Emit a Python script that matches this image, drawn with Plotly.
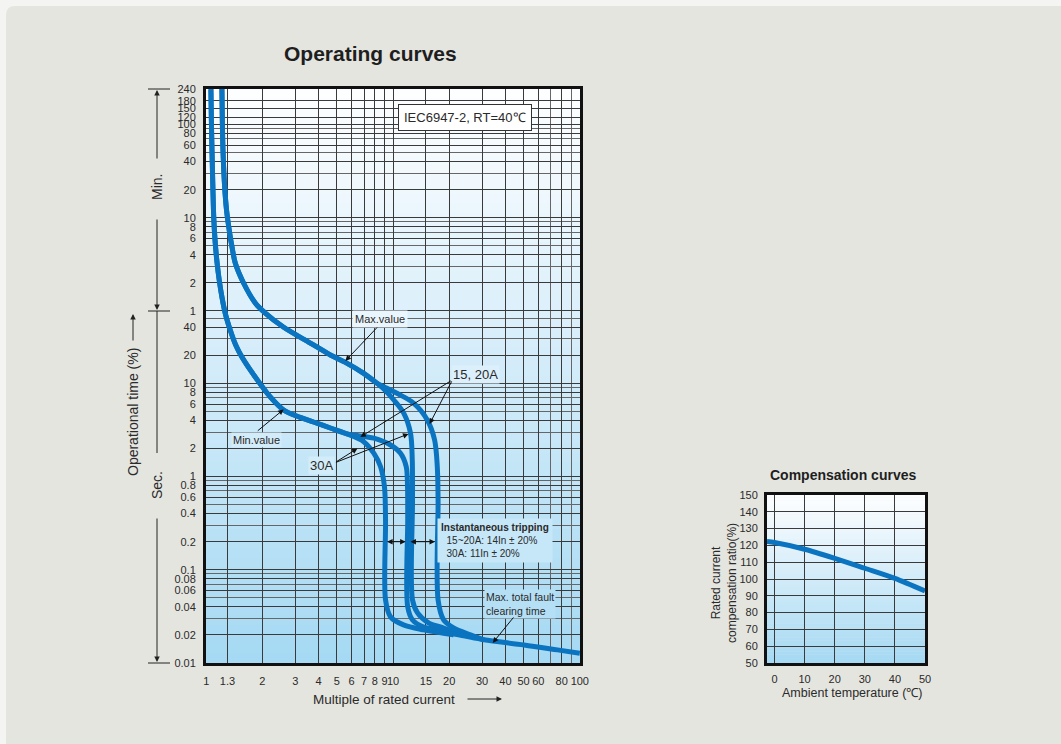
import math
import plotly.graph_objects as go

W, H = 1061, 744

# ---------------- data: operating curves (multiple of In, time in seconds) ----------------
min_common_x = [1.060, 1.066, 1.074, 1.085, 1.098, 1.115, 1.144, 1.174, 1.214, 1.264, 1.345, 1.439,
                1.553, 1.831, 2.203, 2.597, 3.19, 3.75, 4.62, 5.70]
min_common_t = [14400, 6699, 3191, 1345, 595, 345.6, 195.8, 128.7, 84.5, 56.9, 37.4, 25.8,
                19.2, 11.7, 7.15, 5.18, 4.31, 3.85, 3.32, 2.86]

min30_x = min_common_x + [6.97, 7.89, 8.57, 9.0, 9.12, 9.12, 9.70, 11.38, 14.6, 21.1]
min30_t = min_common_t + [2.37, 1.78, 1.28, 0.78, 0.342, 0.0474, 0.0312, 0.0256, 0.0226, 0.020]

min1520_x = min_common_x + [7.89, 9.70, 10.97, 11.77, 11.96, 11.99, 11.99, 12.72, 14.6, 17.3, 21.1]
min1520_t = min_common_t + [2.58, 2.18, 1.78, 1.28, 0.78, 0.342, 0.0399, 0.0289, 0.0243, 0.0226, 0.020]

max_common_x = [1.214, 1.220, 1.230, 1.254, 1.285, 1.333, 1.378, 1.431, 1.585, 1.831, 2.072, 2.588,
                3.61, 4.62, 5.56, 6.97, 8.23]
max_common_t = [14400, 6699, 3191, 1345, 725, 421, 283.7, 195.8, 119.5, 72.9, 56.9, 40.3,
                27.1, 20.2, 16.8, 12.8, 10.0]

max30_x = max_common_x + [9.23, 10.1, 11.43, 12.41, 12.68, 12.72, 12.72, 13.53, 15.5, 18.66, 23.9]
max30_t = max_common_t + [8.15, 6.63, 4.77, 2.92, 1.51, 0.561, 0.0474, 0.0344, 0.0269, 0.0237, 0.0195]

max1520_x = max_common_x + [9.23, 10.5, 12.93, 15.26, 16.7, 17.26, 17.43, 17.43, 18.66, 21.1, 26.0, 30.7]
max1520_t = max_common_t + [8.93, 7.83, 6.11, 4.05, 2.47, 1.28, 0.561, 0.0474, 0.0289, 0.0237, 0.020, 0.0177]

tail_x = [19.6, 23.9, 30.7, 50.3, 75.9, 100]
tail_t = [0.021, 0.0195, 0.0177, 0.0156, 0.0138, 0.0127]

# axis ticks
x_tickvals = [1, 1.3, 2, 3, 4, 5, 6, 7, 8, 9, 10, 15, 20, 30, 40, 50, 60, 80, 100]
x_ticktext = ["1", "1.3", "2", "3", "4", "5", "6", "7", "8", "9", "10", "15", "20", "30", "40", "50", "60", "80", "100"]
x_minor = [70, 90]

sec_labels = [0.01, 0.02, 0.04, 0.06, 0.08, 0.1, 0.2, 0.4, 0.6, 0.8, 1, 2, 4, 6, 8, 10, 20, 40]
sec_text = ["0.01", "0.02", "0.04", "0.06", "0.08", "0.1", "0.2", "0.4", "0.6", "0.8",
            "1", "2", "4", "6", "8", "10", "20", "40"]
min_labels = [1, 2, 4, 6, 8, 10, 20, 40, 60, 80, 100, 120, 150, 180, 240]
sec_minor = [0.03, 0.05, 0.07, 0.09, 0.3, 0.5, 0.7, 0.9, 3, 5, 7, 9, 30, 50]
min_minor = [3, 5, 7, 9, 30, 50, 70, 90]

# compensation curve
comp_temp = [-2.5, 0, 10, 20, 30, 40, 50]
comp_ratio = [122.3, 121.7, 117.7, 112.3, 106.4, 100.4, 92.9]
comp_xticks = [0, 10, 20, 30, 40, 50]
comp_yticks = [50, 60, 70, 80, 90, 100, 110, 120, 130, 140, 150]

# ---------------- figure ----------------
FONT = "Liberation Sans, Arial, sans-serif"
BLUE = "#0b74c0"
TXT = "#2a2a2a"


def P(x):
    return x / W


def Q(y):
    return 1 - y / H


L = math.log10

fig = go.Figure()

for xs, ts in [(min30_x, min30_t), (min1520_x, min1520_t), (max30_x, max30_t),
               (max1520_x, max1520_t), (tail_x, tail_t)]:
    fig.add_trace(go.Scatter(x=xs, y=ts, mode="lines", xaxis="x", yaxis="y",
                             line=dict(color=BLUE, width=5, shape="spline", smoothing=0.9),
                             hoverinfo="skip"))

fig.add_trace(go.Scatter(x=comp_temp, y=comp_ratio, mode="lines", xaxis="x2", yaxis="y2",
                         line=dict(color=BLUE, width=5, shape="spline", smoothing=0.8),
                         hoverinfo="skip"))

y_tickvals = sec_labels + [m * 60 for m in min_labels]
y_ticktext = sec_text + [str(m) for m in min_labels]
y_minor = sec_minor + [m * 60 for m in min_minor]

axis_common = dict(showline=True, linewidth=3, linecolor="#111", mirror=True, ticks="",
                   zeroline=False, tickfont=dict(family=FONT, size=11, color=TXT),
                   showgrid=True, gridcolor="#3a3a3a", gridwidth=1, tickangle=0, automargin=False)

fig.update_layout(
    width=W, height=H, margin=dict(l=0, r=0, t=0, b=0, pad=0, autoexpand=False),
    paper_bgcolor="#f4f4f2", plot_bgcolor="rgba(0,0,0,0)", showlegend=False,
    font=dict(family=FONT, color=TXT),
    xaxis=dict(type="log", domain=[P(206), P(580)], range=[-0.001, 2.001], anchor="y",
               tickvals=x_tickvals, ticktext=x_ticktext, ticklabelstandoff=6,
               minor=dict(tickvals=x_minor, showgrid=True, gridcolor="#666", gridwidth=1),
               **axis_common),
    yaxis=dict(type="log", domain=[Q(663), Q(89)], range=[-2.001, L(14400) + 0.001], anchor="x",
               tickvals=y_tickvals, ticktext=y_ticktext, ticklabelstandoff=5,
               minor=dict(tickvals=y_minor, showgrid=True, gridcolor="#666", gridwidth=1),
               **axis_common),
    xaxis2=dict(domain=[P(767), P(925)], range=[-2.5, 50], anchor="y2",
                tickvals=comp_xticks, ticklabelstandoff=4, **axis_common),
    yaxis2=dict(domain=[Q(663), Q(495)], range=[50, 150], anchor="x2",
                tickvals=comp_yticks, ticklabelstandoff=4, **axis_common),
)

# ---------------- shapes: panel + gradients + brackets ----------------
shapes = []
rx, ry = 9 / W, 9 / H
x0, yt = P(6), Q(6)
shapes.append(dict(type="path", xref="paper", yref="paper", layer="below",
                   path=f"M {x0},0 L {x0},{yt - ry} Q {x0},{yt} {x0 + rx},{yt} L 1,{yt} L 1,0 Z",
                   fillcolor="#e5e5e0", line=dict(width=0)))

top_c = (253, 254, 255)
bot_c = (166, 217, 243)
N = 60
for xr, yr in [("x domain", "y domain"), ("x2 domain", "y2 domain")]:
    for i in range(N):
        f = i / (N - 1)
        c = tuple(int(round(bot_c[k] + (top_c[k] - bot_c[k]) * f)) for k in range(3))
        shapes.append(dict(type="rect", xref=xr, yref=yr, layer="below",
                           x0=0, x1=1, y0=i / N, y1=(i + 1) / N + 0.002,
                           fillcolor=f"rgb{c}", line=dict(width=0)))

for yy in [89, 311, 663]:
    shapes.append(dict(type="line", xref="paper", yref="paper", x0=P(148), x1=P(170),
                       y0=Q(yy), y1=Q(yy), line=dict(color="#222", width=1)))
shapes.append(dict(type="line", xref="paper", yref="paper", x0=P(157), x1=P(157),
                   y0=Q(311), y1=Q(453), line=dict(color="#222", width=1)))
fig.update_layout(shapes=shapes)

# ---------------- annotations ----------------
ann = []


def arrow(hx, ht, tx, tt, side="end"):
    return dict(x=L(hx), y=L(ht), ax=L(tx), ay=L(tt), xref="x", yref="y", axref="x", ayref="y",
                text="", showarrow=True, arrowhead=2, startarrowhead=2, arrowsize=1.1,
                arrowwidth=1, arrowcolor="#111", arrowside=side, standoff=0, startstandoff=0)


def label(x, t, text, size=11, bg=None, **kw):
    d = dict(x=L(x), y=L(t), xref="x", yref="y", text=text, showarrow=False,
             xanchor="center", yanchor="middle",
             font=dict(family=FONT, size=size, color=TXT))
    if bg:
        d.update(bgcolor=bg)
    d.update(kw)
    return d


def ptext(px, py, text, size=12, color=TXT, **kw):
    d = dict(x=P(px), y=Q(py), xref="paper", yref="paper", text=text, showarrow=False,
             xanchor="center", yanchor="middle",
             font=dict(family=FONT, size=size, color=color))
    d.update(kw)
    return d


def parrow(hx, hy, tx, ty):
    return dict(x=P(hx), y=Q(hy), xref="paper", yref="paper", ax=tx - hx, ay=ty - hy,
                text="", showarrow=True, arrowhead=2, arrowsize=1.1, arrowwidth=1,
                arrowcolor="#222", standoff=0)


# titles
ann.append(ptext(370, 53, "<b>Operating curves</b>", size=21, color="#1e1e1e"))
ann.append(ptext(843, 475, "<b>Compensation curves</b>", size=14, color="#1e1e1e"))

# in-chart labels
ann.append(label(24.3, 7214, "IEC6947-2, RT=40\u2103", size=13, bg="#ffffff",
                 bordercolor="#333", borderwidth=1, borderpad=5))
ann.append(label(8.57, 49, "Max.value", size=11, bg="#eaf6fd", borderpad=2))
ann.append(label(1.854, 2.47, "Min.value", size=11, bg="#d3ecf9", borderpad=1))
ann.append(label(27.7, 12.6, "15, 20A", size=13, bg="#dcf0fb", borderpad=1))
ann.append(label(4.14, 1.31, "30A", size=13, bg="#d3ecf9", borderpad=1))
ann.append(label(35.0, 0.205,
                 "<b>Instantaneous tripping</b><br>  15~20A: 14In \u00b1 20%<br>  30A: 11In \u00b1 20%",
                 size=10, bg="#c6e7f8", align="left", borderpad=3))
ann.append(label(47.7, 0.043, "Max. total fault<br>clearing time", size=10.5, bg="#b5dff5",
                 align="left", borderpad=1))

# arrows in chart
ann.append(arrow(5.56, 17.4, 8.36, 41.3))
ann.append(arrow(2.597, 5.25, 1.854, 3.01))
ann.append(arrow(6.69, 2.66, 20.8, 10.9))
ann.append(arrow(15.7, 3.67, 20.8, 10.9))
ann.append(arrow(6.45, 2.0, 4.86, 1.40))
ann.append(arrow(12.1, 2.87, 4.86, 1.40))
ann.append(arrow(34.2, 0.0164, 44.8, 0.0319))
ann.append(arrow(9.3, 0.2, 11.9, 0.2, side="end+start"))
ann.append(arrow(12.4, 0.2, 17.1, 0.2, side="end+start"))

# left side annotations
ann.append(ptext(157, 187, "Min.", size=14, textangle=-90))
ann.append(ptext(157, 485, "Sec.", size=14, textangle=-90))
ann.append(ptext(133, 412, "Operational time (%)", size=14, textangle=-90))
ann.append(parrow(157, 90, 157, 160))
ann.append(parrow(157, 310, 157, 218))
ann.append(parrow(157, 662, 157, 517))
ann.append(parrow(133, 314, 133, 342))

# axis titles
ann.append(ptext(384, 699, "Multiple of rated current", size=13.5))
ann.append(parrow(502, 699, 466, 699))
ann.append(ptext(852, 693, "Ambient temperature (\u2103)", size=12.5))
ann.append(ptext(724, 583, "Rated current<br>compensation ratio(%)", size=12, textangle=-90))

fig.update_layout(annotations=ann)

fig.write_html("out.html", config={"displayModeBar": False},
               post_script="document.body.style.margin='0';document.body.style.overflow='hidden';")
